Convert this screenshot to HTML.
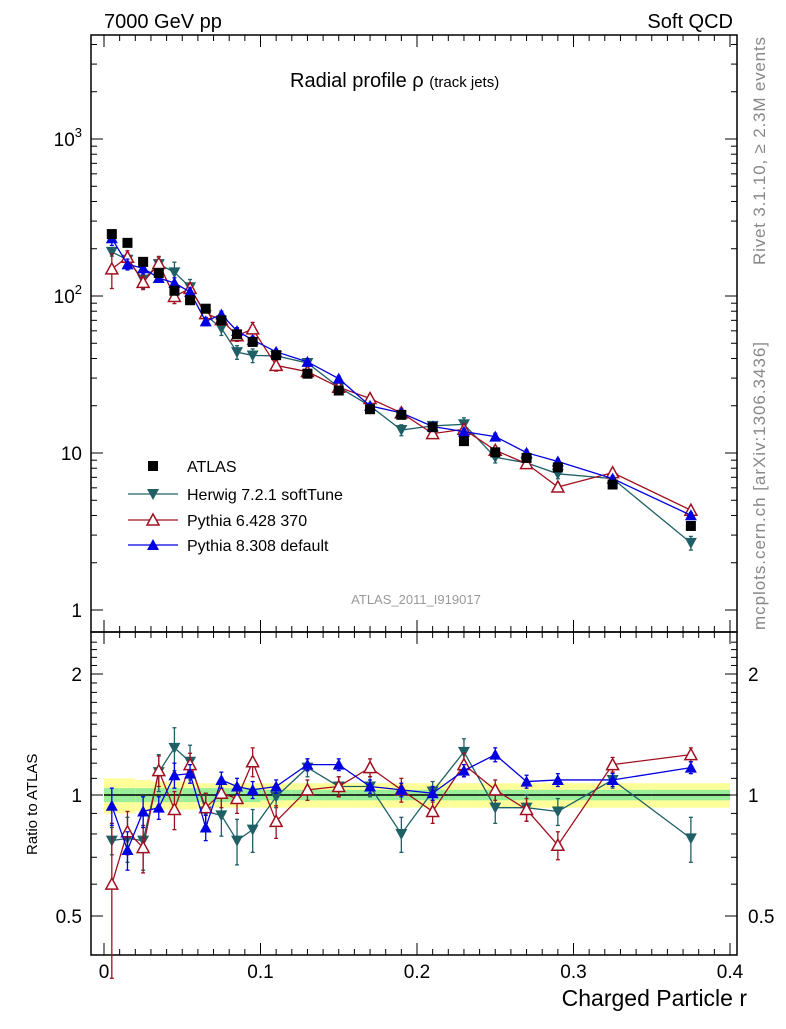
<!DOCTYPE html>
<html><head><meta charset="utf-8"><style>
body{margin:0;background:#fff;}
svg text{font-family:"Liberation Sans",sans-serif;}
</style></head><body>
<svg id="c" width="786" height="1024" xmlns="http://www.w3.org/2000/svg">
<text x="104" y="28" font-size="20">7000 GeV pp</text>
<text x="733" y="28" font-size="20" text-anchor="end">Soft QCD</text>
<text x="290" y="87" font-size="20">Radial profile ρ <tspan font-size="15">(track jets)</tspan></text>
<text x="416" y="604" font-size="13" fill="#999" text-anchor="middle">ATLAS_2011_I919017</text>
<text transform="translate(765,265) rotate(-90)" font-size="17" fill="#888" textLength="228">Rivet 3.1.10, ≥ 2.3M events</text>
<text transform="translate(765,630) rotate(-90)" font-size="17" fill="#888" textLength="288">mcplots.cern.ch [arXiv:1306.3436]</text>
<text x="747" y="1006" font-size="23" text-anchor="end">Charged Particle r</text>
<text transform="translate(37,855) rotate(-90)" font-size="15">Ratio to ATLAS</text>
<g id="g"></g>
</svg>
<script>
const xs=[0.005,0.015,0.025,0.035,0.045,0.055,0.065,0.075,0.085,0.095,0.11,0.13,0.15,0.17,0.19,0.21,0.23,0.25,0.27,0.29,0.325,0.375];
const atlas=[248,218,165,140,108,94,83,70,57,51,42,32,25,19,17.5,14.6,11.9,10.1,9.3,8.1,6.3,3.43];
const atlasStat=[0.04,0.04,0.04,0.04,0.04,0.04,0.04,0.04,0.04,0.04,0.03,0.03,0.03,0.03,0.03,0.03,0.03,0.03,0.03,0.03,0.03,0.03];
const atlasTot=[0.1,0.1,0.09,0.08,0.08,0.08,0.07,0.07,0.07,0.07,0.07,0.07,0.07,0.07,0.07,0.07,0.07,0.07,0.07,0.07,0.07,0.07];
const herwigRatio=[0.77,0.78,0.77,1.14,1.31,1.21,0.91,0.89,0.77,0.82,0.99,1.17,1.05,1.05,0.80,1.02,1.28,0.93,0.93,0.91,1.09,0.78];
const herwigErr=[0.06,0.1,0.12,0.12,0.16,0.12,0.1,0.1,0.1,0.1,0.06,0.06,0.06,0.06,0.08,0.06,0.1,0.08,0.07,0.07,0.05,0.1];
const py6Ratio=[0.60,0.81,0.74,1.15,0.92,1.19,0.93,1.01,0.98,1.21,0.86,1.03,1.05,1.17,1.03,0.91,1.19,1.03,0.92,0.75,1.19,1.26];
const py6Err=[0.25,0.1,0.1,0.1,0.1,0.08,0.08,0.08,0.08,0.1,0.08,0.06,0.06,0.06,0.07,0.06,0.08,0.06,0.06,0.06,0.05,0.05];
const py8Ratio=[0.94,0.73,0.91,0.93,1.12,1.13,0.83,1.09,1.05,1.03,1.05,1.19,1.19,1.05,1.03,1.01,1.15,1.26,1.08,1.09,1.09,1.17];
const py8Err=[0.1,0.08,0.08,0.06,0.08,0.06,0.06,0.05,0.05,0.05,0.04,0.04,0.04,0.04,0.04,0.04,0.04,0.05,0.04,0.04,0.04,0.04];
const xTicks=[0,0.1,0.2,0.3,0.4];
const yTicks=[1,10,100,1000];
const rTicks=[0.5,1,2];

const NS="http://www.w3.org/2000/svg",G=document.getElementById('g');
const X=v=>104+v*1565;
const Y=v=>610-157*Math.log10(v);
const R=v=>795-121*Math.log2(v);
const L=91,Rt=737,T=35,M=632,B=955;
function el(t,a,p){const e=document.createElementNS(NS,t);for(const k in a)e.setAttribute(k,a[k]);(p||G).appendChild(e);return e;}
function line(x1,y1,x2,y2,c,w){return el('line',{x1,y1,x2,y2,stroke:c||'#000','stroke-width':w||1});}

for(let i=0;i<xs.length;i++){
 const x0=i<10?xs[i]-0.005:(i<20?xs[i]-0.01:(i==20?0.30:0.35));
 const x1=i<10?xs[i]+0.005:(i<20?xs[i]+0.01:(i==20?0.35:0.40));
 const b=el('rect',{x:X(x0),y:R(1+atlasTot[i]),width:X(x1)-X(x0),height:R(1-atlasTot[i])-R(1+atlasTot[i]),fill:'#ffff99'});
 
 
 const s=el('rect',{x:X(x0),y:R(1+atlasStat[i]),width:X(x1)-X(x0),height:R(1-atlasStat[i])-R(1+atlasStat[i]),fill:'#99ee99'});
 
 
}
line(X(0),R(1),X(0.4),R(1),'#000',1.5);

el('rect',{x:L,y:T,width:Rt-L,height:M-T,fill:'none',stroke:'#000','stroke-width':1.5});
el('rect',{x:L,y:M,width:Rt-L,height:B-M,fill:'none',stroke:'#000','stroke-width':1.5});

for(let k=-1;k<=42;k++){const v=k*0.01,x=X(v);if(x<L||x>Rt)continue;const big=k%10==0;const h=big?12:6;
 for(const [yb,dir] of [[T,1],[M,-1],[M,1],[B,-1]])line(x,yb,x,yb+dir*h);}
xTicks.forEach(v=>{const t=el('text',{x:X(v),y:978,'font-size':19,'text-anchor':'middle'});t.textContent=String(v);
 
 });
for(let d=0;d<4;d++)for(let m=1;m<10;m++){const v=m*Math.pow(10,d);const y=Y(v);if(y<T||y>M)continue;const h=m==1?12:6;line(L,y,L+h,y);line(Rt,y,Rt-h,y);}
yTicks.forEach(v=>{const y=Y(v);const t=el('text',{x:82,y:y+7,'font-size':19,'text-anchor':'end'});
 if(v>=100){t.textContent='10';const s=el('tspan',{dy:-9,'font-size':13},t);s.textContent=String(Math.round(Math.log10(v)));}else t.textContent=String(v);
 
 });
for(let v=0.4;v<2.5;v+=0.1){const y=R(v);if(y<M||y>B)continue;const big=[0.5,1,2].some(q=>Math.abs(q-v)<1e-6);const h=big?12:6;line(L,y,L+h,y);line(Rt,y,Rt-h,y);}
rTicks.forEach(v=>{for(const [x,a] of [[82,'end'],[748,'start']]){const t=el('text',{x,y:R(v)+7,'font-size':19,'text-anchor':a});t.textContent=String(v);
 
 }});

function marker(type,x,y,c,p){
 if(type=='sq')return el('rect',{x:x-5,y:y-5,width:10,height:10,fill:c},p);
 if(type=='down')return el('polygon',{points:`${x-6},${y-5} ${x+6},${y-5} ${x},${y+6}`,fill:c},p);
 if(type=='upo')return el('polygon',{points:`${x-6},${y+5} ${x+6},${y+5} ${x},${y-6}`,fill:'#fff',stroke:c,'stroke-width':1.5},p);
 return el('polygon',{points:`${x-6},${y+5} ${x+6},${y+5} ${x},${y-6}`,fill:c},p);
}
function series(name,ratio,err,c,type){
 const g=el('g',{});
 
 
 const main=xs.map((x,i)=>[X(x),Y(atlas[i]*ratio[i])]);
 const rat=xs.map((x,i)=>[X(x),R(ratio[i])]);
 el('polyline',{points:main.map(p=>p.join(',')).join(' '),fill:'none',stroke:c,'stroke-width':1.3},g);
 el('polyline',{points:rat.map(p=>p.join(',')).join(' '),fill:'none',stroke:c,'stroke-width':1.3},g);
 xs.forEach((x,i)=>{
  const v=atlas[i]*ratio[i];
  el('line',{x1:X(x),y1:Y(v*(1+err[i])),x2:X(x),y2:Y(v*(1-err[i])),stroke:c,'stroke-width':1.3},g);
  el('line',{x1:X(x),y1:R(ratio[i]+err[i]),x2:X(x),y2:R(ratio[i]-err[i]),stroke:c,'stroke-width':1.3},g);
  for(const y of [R(ratio[i]+err[i]),R(ratio[i]-err[i]),Y(v*(1+err[i])),Y(v*(1-err[i]))])el('line',{x1:X(x)-2,y1:y,x2:X(x)+2,y2:y,stroke:c,'stroke-width':1.3},g);
  const m1=marker(type,X(x),Y(v),c,g);
  
  
  const m2=marker(type,X(x),R(ratio[i]),c,g);
  
  
 });
}
series('herwig',herwigRatio,herwigErr,'#1f6066','down');
series('pythia6',py6Ratio,py6Err,'#a01020','upo');
series('pythia8',py8Ratio,py8Err,'#0000e0','up');
xs.forEach((x,i)=>{const m=marker('sq',X(x),Y(atlas[i]),'#000');
 
 });

const leg=[['ATLAS','sq','#000',466],['Herwig 7.2.1 softTune','down','#1f6066',494],['Pythia 6.428 370','upo','#a01020',520],['Pythia 8.308 default','up','#0000e0',545]];
leg.forEach(([t,ty,c,y])=>{
 const g=el('g',{});
 
 
 if(ty!='sq')el('line',{x1:128,y1:y,x2:178,y2:y,stroke:c,'stroke-width':1.3},g);
 marker(ty,153,y,c,g);
 const tx=el('text',{x:187,y:y+6,'font-size':16},g);tx.textContent=t;
});
</script>
</body></html>
